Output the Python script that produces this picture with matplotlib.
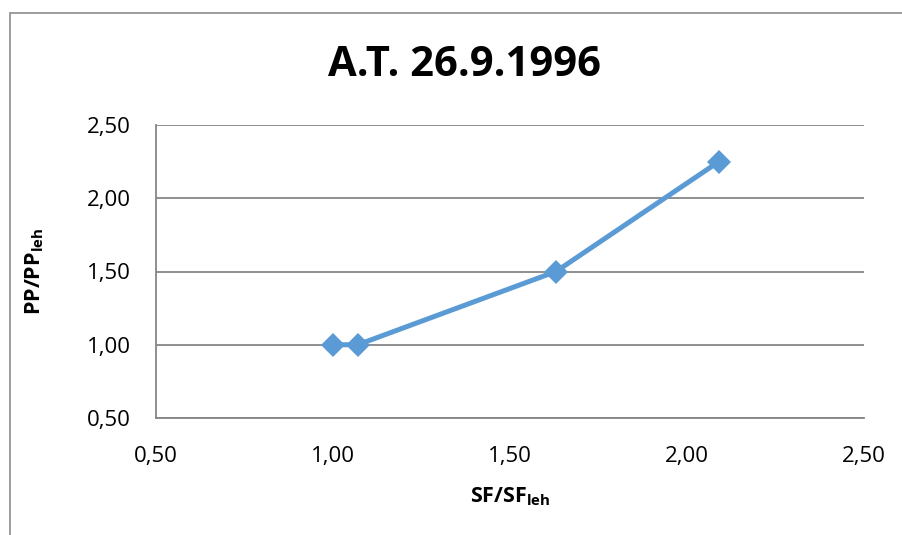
import matplotlib
matplotlib.use('Agg')
import matplotlib.pyplot as plt
from matplotlib.patches import Rectangle

# data
sf_ratio = [1.00, 1.07, 1.63, 2.09]
pp_ratio = [1.00, 1.00, 1.50, 2.25]
ticks = [0.5, 1.0, 1.5, 2.0, 2.5]
tick_labels = ['0,50', '1,00', '1,50', '2,00', '2,50']

plt.rcParams['font.family'] = ['Open Sans', 'DejaVu Sans']
plt.rcParams['mathtext.fontset'] = 'custom'
plt.rcParams['mathtext.rm'] = 'Open Sans'
plt.rcParams['mathtext.bf'] = 'Open Sans:bold'

fig = plt.figure(figsize=(9.02, 5.35), dpi=100)
W, H = 902, 535
ax = fig.add_axes([156 / W, 1 - 418 / H, (864 - 156) / W, (418 - 125) / H])

# outer chart frame (cut off on the right and bottom)
fig.patches.append(Rectangle((10 / W, -0.1), 1.2, 1 - 13 / H + 0.1,
                             transform=fig.transFigure, fill=False,
                             edgecolor='#8c8c8c', lw=1.2))

ax.plot(sf_ratio, pp_ratio, color='#5b9bd5', lw=3.6, marker='D',
        markersize=12.5, markeredgewidth=0, solid_capstyle='butt', zorder=3)

ax.set_xlim(0.5, 2.5)
ax.set_ylim(0.5, 2.5)
ax.set_xticks(ticks)
ax.set_xticklabels(tick_labels)
ax.set_yticks(ticks)
ax.set_yticklabels(tick_labels)
ax.tick_params(length=0, labelsize=16, colors='black')
ax.tick_params(axis='x', pad=20)
ax.tick_params(axis='y', pad=18)
ax.grid(axis='y', color='#868686', lw=1.3)
ax.set_axisbelow(True)
for s in ['top', 'right']:
    ax.spines[s].set_visible(False)
for s in ['left', 'bottom']:
    ax.spines[s].set_color('#868686')
    ax.spines[s].set_linewidth(1.3)

ax.set_xlabel(r'SF/SF$_\mathbf{leh}$', fontsize=15.5, fontweight='bold')
ax.set_ylabel(r'PP/PP$_\mathbf{leh}$', fontsize=15.5, fontweight='bold')
ax.xaxis.set_label_coords(0.5, (418 - 497) / 293, transform=ax.transAxes)
ax.yaxis.set_label_coords((35 - 156) / 708, 0.5, transform=ax.transAxes)
ax.xaxis.label.set_va('center')
ax.yaxis.label.set_va('center')
fig.text(464 / W, 1 - 66 / H, 'A.T. 26.9.1996', fontsize=30, fontweight='bold',
         ha='center', va='center')

fig.savefig('out.png', dpi=100)
